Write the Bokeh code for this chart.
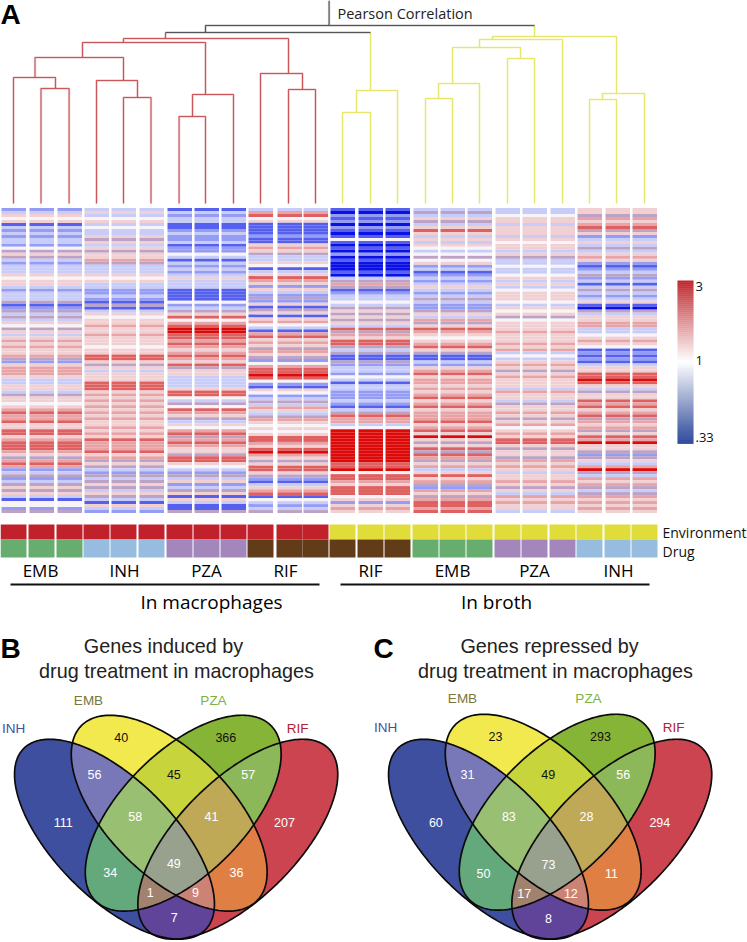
import numpy as np
from bokeh.plotting import figure
from bokeh.models import Range1d
from bokeh.core.properties import value
from bokeh.embed import file_html
from bokeh.resources import INLINE

# ---------- DATA ----------
# heat-map levels per condition: 0 deep blue ... 4 white ... 8 deep red, m muted mauve
EMB_mac = "2354513232 3324m5m323 3354553233 3m12m3m354 m535656556 m256665335 53m5545676 6755775677 765m67623m 23m5m53144 2m"
INH_mac = "3534534335 m535m556m3 3354533223 21m1354556 5565554557 75m5355577 7565656565 6556565766 675 6m5m32m 3m5m35m315 32"
PZA_mac = "1323311232 2312243132 3235333111 1423m57467 8877676567 657m553333 577 43m4765 m354 67m676 55m7754 32m 3523m51531 1m"
RIF_mac = "3674511112 1156 5m3354 1357652532 m251m51564 3167565m65 m246778742 15423m365 3m 6545457765 7865m5775m 2135671432 3m"
RIF_bro = "1021202101 4101020100 0103m6m123 3 43m5m5m53 7m657 7m3m1 1m23324313 3222321 3m7 6634888888 8888877847 7657774525 65"
EMB_bro = "3m35m35753 5354 34m452 3123235323 m3 22m5 36m5 7654567 5m1 1325675665 6567567566 6756758 5m5 7m76m56357 56m2 65m677 67"
PZA_bro = "3345535553 5455 35m334 3345353455 5435 45m455 5655 565634 3565m56555 3655 3m5565 m564 565775 m55m656535 565m536565 53"
INH_bro = "55m6567m52 353m 356521 23m2313m32 3510m35566 3345654121 2135577875 3m55767567 m656m57685 5m2m5368m3 656m3m6565 65"
heat_conditions = [EMB_mac, INH_mac, PZA_mac, RIF_mac, RIF_bro, EMB_bro, PZA_bro, INH_bro]
env_colors = ["#c1212a"] * 4 + ["#e0dc3a"] * 4
drug_colors = ["#66ad6f", "#96bcdf", "#a386bc", "#623c18", "#623c18", "#66ad6f", "#a386bc", "#96bcdf"]
group_labels = ["EMB", "INH", "PZA", "RIF", "RIF", "EMB", "PZA", "INH"]
group_centres = [40, 124, 206, 285, 370, 452, 534, 618]

# dendrogram merges: left x, right x, height, left child height, right child height
leaf = 203
den_red = [
    (40.5, 68.6, 88, leaf, leaf), (13, 55, 77, leaf, 88), (123, 150.5, 97, leaf, leaf),
    (96, 137, 80, leaf, 97), (34.5, 123, 57, 77, 80), (178.6, 205, 116, leaf, leaf),
    (192, 233, 94, 116, leaf), (82, 205, 42, 57, 94), (288, 315, 89, leaf, leaf),
    (260, 302, 73, leaf, 89), (123, 288, 38, 42, 73), (165, 165, 32, 38, 38),
]
den_yellow = [
    (342, 370, 112, leaf, leaf), (356, 397, 90, 112, leaf), (425, 452, 98, leaf, leaf),
    (438, 479, 83, 98, leaf), (507, 534, 58, leaf, leaf), (452, 520, 47, 83, 58),
    (479, 562, 39, 47, leaf), (589, 616, 99, leaf, leaf), (602, 644, 93, 99, leaf),
    (492, 616, 36, 39, 93), (370, 370, 32, 90, 90), (534, 534, 25, 36, 36),
]
den_black = [(165, 370, 32, 32, 32), (205, 534, 25, 32, 25), (328.6, 328.6, 0, 25, 25)]

# Venn diagrams
venn_sets = ["INH", "EMB", "PZA", "RIF"]
venn_set_colors = ["#3f51a0", "#77773d", "#7cb342", "#b22234"]
region_colors = {
    "I": "#3f4f9f", "E": "#f2e94f", "P": "#86b437", "R": "#cb4450", "IE": "#7878b8",
    "EP": "#c8d43c", "PR": "#8db85a", "IP": "#63a97c", "ER": "#e07f44", "IR": "#60449a",
    "IEP": "#98bf72", "EPR": "#bfa957", "IPR": "#a0826e", "IER": "#cc8376", "IEPR": "#98a08e",
}
region_order = ["E", "P", "IE", "EP", "PR", "I", "IEP", "EPR", "R", "IEPR", "IP", "ER", "IPR", "IER", "IR"]
induced = [40, 366, 56, 45, 57, 111, 58, 41, 207, 49, 34, 36, 1, 9, 7]
repressed = [23, 293, 31, 49, 56, 60, 83, 28, 294, 73, 50, 11, 17, 12, 8]

# ---------- LAYOUT (reference pixels) ----------
W, H = 747, 942
col_left = [1, 29, 57, 84, 111, 139, 167, 194, 221, 248, 277, 303,
            330, 358, 385, 413, 440, 467, 495, 522, 550, 577, 605, 632]
col_w = 24.5
heat_top, heat_bot = 207.5, 512.5

p = figure(width=W, height=H, x_range=Range1d(0, W), y_range=Range1d(H, 0),
           toolbar_location=None, output_backend="svg", min_border=0,
           margin=0, outline_line_color=None, background_fill_color="white")
p.axis.visible = False
p.grid.visible = False

SANS = value("Liberation Sans")
OPEN = value("Open Sans")


def label(x, y, t, size, color="#111111", align="center", font=SANS, style="normal"):
    p.text([x], [y], text=[t], text_font=font, text_font_size=f"{size}px", text_color=color,
           text_align=align, text_baseline="middle", text_font_style=style)


# heat map
level_colors = {"0": "#0a10e6", "1": "#5560ee", "2": "#959cf4", "3": "#c8ccf8", "4": "#f7f3f7",
                "5": "#f1d0d3", "6": "#e8a3a6", "7": "#de6060", "8": "#dd0a0a", "m": "#bca3c6"}
L, R, T, B, C = [], [], [], [], []
for g, s in enumerate(heat_conditions):
    rows = s.replace(" ", "")
    h = (heat_bot - heat_top) / len(rows)
    for c in range(3):
        x0 = col_left[g * 3 + c]
        for r, ch in enumerate(rows):
            L.append(x0); R.append(x0 + col_w)
            T.append(heat_top + r * h); B.append(heat_top + (r + 1) * h)
            C.append(level_colors[ch])
p.quad(left=L, right=R, top=T, bottom=B, fill_color=C, line_color=None)

# dendrogram (soft halo like the reference, then the line)
for merges, color in ((den_red, "#c9565b"), (den_yellow, "#e6e66c"), (den_black, "#555555")):
    xs, ys = [], []
    for x0, x1, y, y0, y1 in merges:
        xs.append([x0, x0, x1, x1]); ys.append([y0, y, y, y1])
    p.multi_line(xs, ys, line_color=color, line_width=2.4, line_alpha=0.28)
    p.multi_line(xs, ys, line_color=color, line_width=1.1)
label(337, 13, "Pearson Correlation", 14.5, align="left", font=OPEN, color="#222222")
label(0, 14, "A", 28, align="left", style="bold", color="#000000")

# annotation bars
for g in range(8):
    for c in range(3):
        x0 = col_left[g * 3 + c] - 1
        p.quad(left=x0, right=x0 + 26, top=524, bottom=539, fill_color=env_colors[g], line_color=None)
        p.quad(left=x0, right=x0 + 26, top=539, bottom=557, fill_color=drug_colors[g], line_color=None)
    label(group_centres[g], 570, group_labels[g], 17, font=OPEN, color="#000000")
label(662, 532, "Environment", 14, align="left", font=OPEN)
label(662, 551, "Drug", 14, align="left", font=OPEN)
p.line([10, 319], [584, 584], line_color="#111111", line_width=2)
p.line([340, 649], [584, 584], line_color="#111111", line_width=2)
label(211, 601, "In macrophages", 19, font=OPEN, color="#000000")
label(496, 601, "In broth", 19, font=OPEN, color="#000000")

# colour bar
def grad(t):
    stops = [(0.0, (193, 39, 45)), (0.5, (255, 255, 255)), (1.0, (46, 74, 154))]
    if t <= 0.5:
        a, b, f = stops[0][1], stops[1][1], t / 0.5
    else:
        a, b, f = stops[1][1], stops[2][1], (t - 0.5) / 0.5
    return "#%02x%02x%02x" % tuple(int(round(a[i] + (b[i] - a[i]) * f)) for i in range(3))


n = 82
bar_y = np.linspace(280, 443, n + 1)
p.quad(left=677, right=693, top=bar_y[:-1], bottom=bar_y[1:] + 0.4,
       fill_color=[grad(i / (n - 1)) for i in range(n)], line_color=None)
label(695, 286, "3", 13, align="left", font=OPEN)
label(695, 360, "1", 13, align="left", font=OPEN)
label(695, 437, ".33", 13, align="left", font=OPEN)


# Venn diagrams
def hex2rgb(h):
    return [int(h[i:i + 2], 16) for i in (1, 3, 5)]


def venn(dx, dy_top, counts, numbers_pos, black_first, set_pos, head, head_pos, letter, letter_x):
    ell = [(114 + dx, 838.7, 1, 128.3, 59.3), (168.7 + dx, 812.7 + dy_top, 1, 124, 61.7),
           (182.7 + dx, 812.7 + dy_top, -1, 124, 61.7), (237.3 + dx, 838.7, -1, 128.3, 59.3)]
    keys = "IEPR"
    x0, x1, y0, y1 = int(dx), int(dx) + 352, 700, 942
    ss = 4
    xx, yy = np.meshgrid((np.arange((x1 - x0) * ss) + .5) / ss + x0,
                         (np.arange((y1 - y0) * ss) + .5) / ss + y0)
    rgba = np.zeros(xx.shape + (4,), dtype=float)
    masks = []
    for cx, cy, sg, a, b in ell:
        u = ((xx - cx) + sg * (yy - cy)) / np.sqrt(2)
        v = ((yy - cy) - sg * (xx - cx)) / np.sqrt(2)
        masks.append((u / a) ** 2 + (v / b) ** 2 <= 1)
    for k, col in region_colors.items():
        m = np.ones(xx.shape, bool)
        for i, ch in enumerate(keys):
            m &= masks[i] if ch in k else ~masks[i]
        rgba[m, :3] = hex2rgb(col)
        rgba[m, 3] = 255
    al = rgba[..., 3:4]
    h_, w_ = xx.shape
    rgb_sum = (rgba[..., :3] * al).reshape(h_ // ss, ss, w_ // ss, ss, 3).sum((1, 3))
    al_sum = al.reshape(h_ // ss, ss, w_ // ss, ss, 1).sum((1, 3))
    rgb = rgb_sum / np.maximum(al_sum, 1)
    alpha = al_sum / (ss * ss)
    img = np.dstack([rgb, alpha]).astype(np.uint8)
    packed = img[..., 0].astype(np.uint32) | img[..., 1].astype(np.uint32) << 8 | \
        img[..., 2].astype(np.uint32) << 16 | img[..., 3].astype(np.uint32) << 24
    p.image_rgba(image=[packed], x=x0, y=y0, dw=x1 - x0, dh=y1 - y0)
    t = np.linspace(0, 2 * np.pi, 240)
    xs, ys = [], []
    for cx, cy, sg, a, b in ell:
        u, v = a * np.cos(t), b * np.sin(t)
        xs.append(cx + (u - sg * v) / np.sqrt(2))
        ys.append(cy + (sg * u + v) / np.sqrt(2))
    p.multi_line(xs, ys, line_color="#0a0a0a", line_width=1.7)
    for reg, cnt, pos in zip(region_order, counts, numbers_pos):
        color = "#111111" if reg in black_first else "#ffffff"
        label(pos[0], pos[1], str(cnt), 12.5, color=color)
    for nm, col, pos in zip(venn_sets, venn_set_colors, set_pos):
        label(pos[0], pos[1], nm, 13.5, color=col)
    for txt, pos in zip(head, head_pos):
        label(pos[0], pos[1], txt, 19.8, color="#222222")
    label(letter_x, 648, letter, 28, align="left", style="bold", color="#000000")


z = lambda ox, pts: [(ox + x / 3, 625 + y / 3) for x, y in pts]
venn(0, 0, induced,
     z(0, [(362, 335), (676, 335), (282, 448), (520, 448), (743, 448), (188, 592), (404, 573), (633, 573),
           (852, 592), (520, 714), (329, 742), (708, 742), (449, 802), (585, 802), (521, 877)]),
     ("E", "P", "EP"), [(13, 728), (88, 700), (213, 700), (297, 728)],
     ["Genes induced by", "drug treatment in macrophages"], [(163, 645), (176, 670)], "B", 0)
venn(374, -1, repressed,
     z(370, [(375, 333), (690, 333), (291, 448), (533, 448), (758, 448), (196, 592), (415, 573), (648, 573),
             (868, 592), (534, 716), (339, 745), (723, 745), (461, 805), (601, 805), (534, 880)]),
     ("E", "P", "EP"), [(385, 727), (462, 698), (588, 698), (673, 727)],
     ["Genes repressed by", "drug treatment in macrophages"], [(549, 645), (555, 670)], "C", 373)

open("out.html", "w").write(file_html(p, INLINE))
